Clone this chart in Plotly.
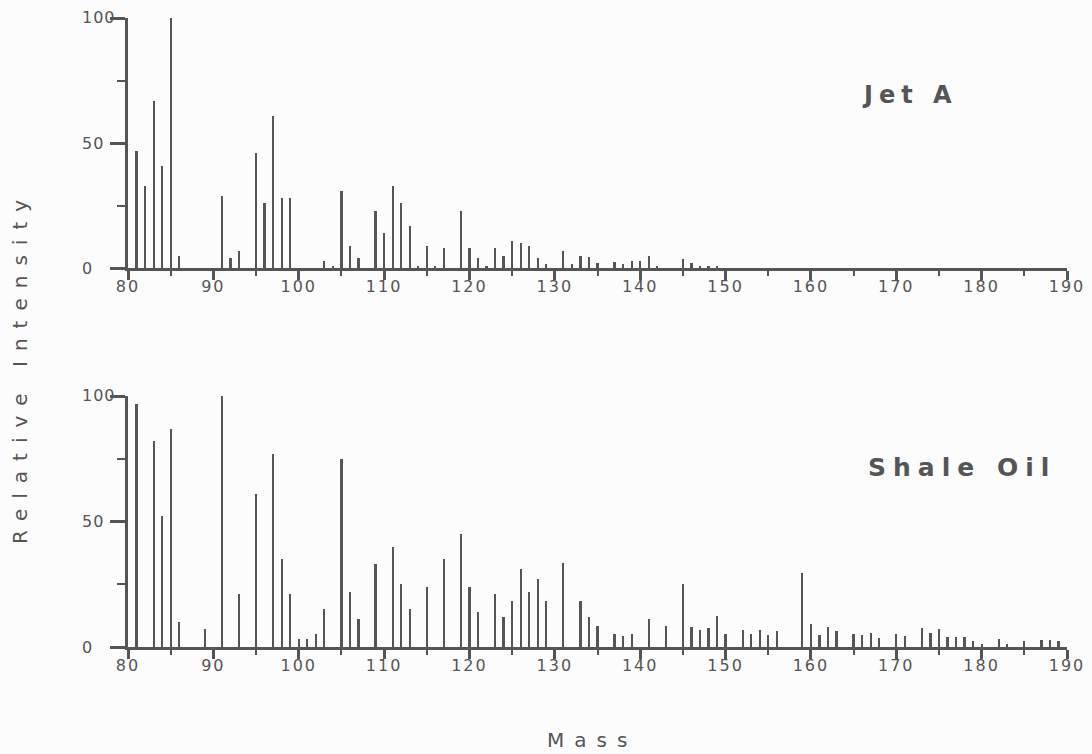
import plotly.graph_objects as go

# ---- data ----
jet_mass = [81, 82, 83, 84, 85, 86, 91, 92, 93, 95, 96, 97, 98, 99,
            103, 104, 105, 106, 107, 109, 110, 111, 112, 113, 114, 115, 116, 117,
            119, 120, 121, 122, 123, 124, 125, 126, 127, 128, 129, 131, 132, 133,
            134, 135, 137, 138, 139, 140, 141, 142, 145, 146, 147, 148, 149]
jet_int = [47, 33, 67, 41, 100, 5, 29, 4, 7, 46, 26, 61, 28, 28,
           3, 1, 31, 9, 4, 23, 14, 33, 26, 17, 1, 9, 1, 8,
           23, 8, 4, 1, 8, 5, 11, 10, 9, 4, 1.5, 7, 1.5, 5,
           4.5, 2, 2.5, 1.5, 3, 3, 5, 0.5, 3.5, 2, 0.7, 0.7, 0.5]

shale_mass = [81, 83, 84, 85, 86, 89, 91, 93, 95, 97, 98, 99, 100, 101, 102, 103,
              105, 106, 107, 109, 111, 112, 113, 115, 117, 119, 120, 121, 123, 124,
              125, 126, 127, 128, 129, 131, 133, 134, 135, 137, 138, 139, 141, 143,
              145, 146, 147, 148, 149, 150, 152, 153, 154, 155, 156, 159, 160, 161,
              162, 163, 165, 166, 167, 168, 170, 171, 173, 174, 175, 176, 177, 178,
              179, 180, 182, 183, 185, 187, 188, 189]
shale_int = [97, 82, 52, 87, 10, 7, 100, 21, 61, 77, 35, 21, 3, 3, 5, 15,
             75, 22, 11, 33, 40, 25, 15, 24, 35, 45, 24, 14, 21, 12,
             18.5, 31, 22, 27, 18.5, 33.5, 18.5, 12, 8.5, 5.3, 4.2, 5.3, 11, 8.5,
             25, 8, 6.6, 7.4, 12.5, 5.3, 6.9, 5.3, 6.9, 4.9, 6.5, 29.5, 9, 4.6,
             8, 6.5, 5.2, 4.9, 5.6, 3.6, 5.2, 4.2, 7.6, 5.6, 7.2, 3.9, 3.9, 3.9,
             2.3, 1, 3.3, 1, 2.5, 2.9, 2.9, 2.5]

x_ticks = [80, 90, 100, 110, 120, 130, 140, 150, 160, 170, 180, 190]
y_ticks = [0, 50, 100]

INK = "#555555"
FONT = "DejaVu Sans"
W, H = 1092, 754


def spaced(s, px):
    return '<span style="letter-spacing:%dpx">%s</span>' % (px, s)


fig = go.Figure()
fig.add_trace(go.Bar(x=jet_mass, y=jet_int, width=0.26, marker=dict(color=INK, line=dict(width=0)),
                     xaxis="x", yaxis="y", showlegend=False))
fig.add_trace(go.Bar(x=shale_mass, y=shale_int, width=0.26, marker=dict(color=INK, line=dict(width=0)),
                     xaxis="x2", yaxis="y2", showlegend=False))

xdom = [128 / W, 1067 / W]


def xax(anchor):
    return dict(domain=xdom, range=[80, 190], anchor=anchor, showgrid=False, zeroline=False,
                automargin=False,
                showline=True, linecolor=INK, linewidth=3,
                tickmode="array", tickvals=x_ticks, ticktext=[spaced(str(v), 2) for v in x_ticks],
                ticks="outside", ticklen=9, tickwidth=3, tickcolor=INK,
                ticklabelstandoff=-7,
                minor=dict(dtick=5, tick0=80, ticks="outside", ticklen=5, tickwidth=1.5, tickcolor=INK),
                tickfont=dict(family=FONT, size=16, color=INK), fixedrange=True)


def yax(anchor, dom):
    return dict(domain=dom, range=[0, 100], anchor=anchor, showgrid=False, zeroline=False,
                automargin=False,
                showline=True, linecolor=INK, linewidth=3,
                tickmode="array", tickvals=y_ticks, showticklabels=False,
                ticks="outside", ticklen=15, tickwidth=3, tickcolor=INK,
                minor=dict(dtick=25, tick0=0, ticks="outside", ticklen=8, tickwidth=1.5, tickcolor=INK),
                fixedrange=True)


annots = []
# y tick labels, left-aligned as in the original plotter output
for yref in ("y", "y2"):
    for v in y_ticks:
        annots.append(dict(text=spaced(str(v), 1), x=80 / W, xref="paper", xanchor="left",
                           y=v, yref=yref, yanchor="middle", showarrow=False,
                           font=dict(family=FONT, size=16, color=INK)))

annots += [
    dict(text="<b>" + spaced("Jet&nbsp;A", 6) + "</b>", x=910 / W, y=1 - 95 / H, xref="paper", yref="paper",
         xanchor="center", yanchor="middle",
         showarrow=False, font=dict(family=FONT, size=24, color=INK)),
    dict(text="<b>" + spaced("Shale&nbsp;Oil", 7) + "</b>", x=962 / W, y=1 - 467 / H, xref="paper", yref="paper",
         xanchor="center", yanchor="middle",
         showarrow=False, font=dict(family=FONT, size=25, color=INK)),
    dict(text=spaced("Relative Intensity", 10), x=20 / W, y=1 - 367 / H, xref="paper", yref="paper",
         xanchor="center", yanchor="middle",
         textangle=-90, showarrow=False, font=dict(family=FONT, size=20, color=INK)),
    dict(text=spaced("Mass", 10), x=592 / W, y=1 - 740 / H, xref="paper", yref="paper",
         xanchor="center", yanchor="middle",
         showarrow=False, font=dict(family=FONT, size=20, color=INK)),
]

fig.update_layout(
    width=W, height=H, margin=dict(l=0, r=0, t=0, b=0, autoexpand=False),
    paper_bgcolor="#fcfcfc", plot_bgcolor="rgba(0,0,0,0)",
    bargap=0,
    xaxis=xax("y"), yaxis=yax("x", [1 - 268 / H, 1 - 18 / H]),
    xaxis2=xax("y2"), yaxis2=yax("x2", [1 - 647 / H, 1 - 396 / H]),
    annotations=annots,
)

fig.write_html("out.html")
